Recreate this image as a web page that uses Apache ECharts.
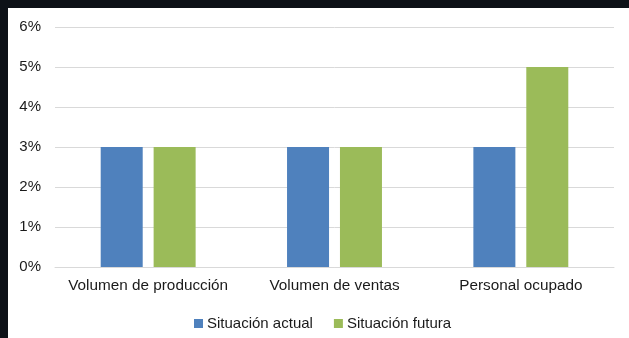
<!DOCTYPE html>
<html>
<head>
<meta charset="utf-8">
<script src="https://cdn.jsdelivr.net/npm/echarts@6/dist/echarts.min.js"></script>
<style>
html,body{margin:0;padding:0;background:#0d1117;width:629px;height:338px;overflow:hidden;}
#c{position:absolute;left:8px;top:8px;width:621px;height:330px;background:#ffffff;}
</style>
</head>
<body>
<div id="c"></div>
<script>
var categories = ["Volumen de producción", "Volumen de ventas", "Personal ocupado"];
var seriesNames = ["Situación actual", "Situación futura"];
var actual = [3, 3, 3];
var futura = [3, 3, 5];
var yTicks = [0, 1, 2, 3, 4, 5, 6];

var chart = echarts.init(document.getElementById('c'), null, {renderer: 'canvas'});
var font = "'Liberation Sans', Arial, sans-serif";
chart.setOption({
  animation: false,
  backgroundColor: '#ffffff',
  grid: {left: 47, right: 15, top: 19, bottom: 71, containLabel: false},
  legend: {
    data: seriesNames,
    left: 181, top: 303,
    itemWidth: 9, itemHeight: 9, itemGap: 21,
    icon: 'rect',
    textStyle: {fontFamily: font, fontSize: 15, color: '#1a1a1a', padding: [0,0,0,-1]}
  },
  xAxis: {
    type: 'category',
    data: categories,
    axisLine: {show: true, lineStyle: {color: '#d9d9d9', width: 1}},
    axisTick: {show: false},
    axisLabel: {fontFamily: font, fontSize: 15.3, color: '#1a1a1a', margin: 11, interval: 0}
  },
  yAxis: {
    type: 'value',
    min: yTicks[0], max: yTicks[yTicks.length - 1], interval: 1,
    axisLine: {show: false},
    axisTick: {show: false},
    splitLine: {lineStyle: {color: '#d9d9d9', width: 1}},
    axisLabel: {fontFamily: font, fontSize: 15, color: '#1a1a1a', margin: 14,
      formatter: function (v) { return v + '%'; }}
  },
  series: [
    {name: seriesNames[0], type: 'bar', data: actual, barWidth: 42, barGap: '26%',
     itemStyle: {color: '#4f81bd'}},
    {name: seriesNames[1], type: 'bar', data: futura, barWidth: 42, barGap: '26%',
     itemStyle: {color: '#9bbb59'}}
  ]
});
</script>
</body>
</html>
